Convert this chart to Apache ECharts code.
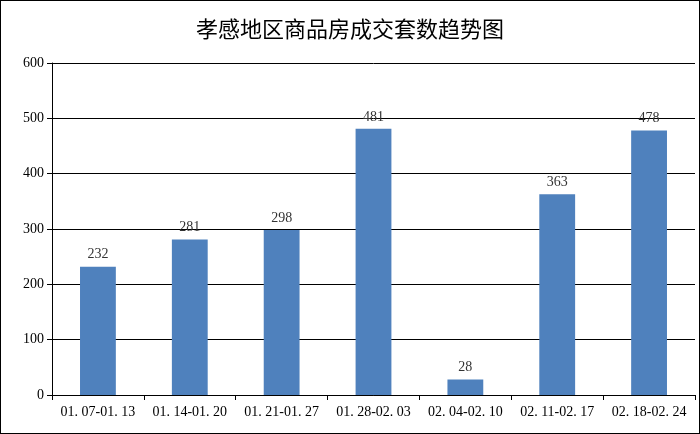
<!DOCTYPE html>
<html><head><meta charset="utf-8">
<script src="https://cdn.jsdelivr.net/npm/echarts@6/dist/echarts.min.js"></script>
<style>html,body{margin:0;padding:0;background:#fff}#mainChart{width:698px;height:432px;border:1px solid #000}</style>
</head><body>
<div id="mainChart"></div>
<script>
// 孝感地区商品房成交套数
var categories = ['01. 07-01. 13', '01. 14-01. 20', '01. 21-01. 27', '01. 28-02. 03', '02. 04-02. 10', '02. 11-02. 17', '02. 18-02. 24'];
var dealCounts = [232, 281, 298, 481, 28, 363, 478];

var myChart = echarts.init(document.getElementById('mainChart'));
myChart.setOption({
    animation: false,
    title: {
        text: '孝感地区商品房成交套数趋势图',
        left: 'center',
        top: 12,
        textStyle: { fontFamily: 'Noto Sans CJK SC', fontSize: 22, fontWeight: 'normal', color: '#000' }
    },
    grid: { left: 51, right: 4, top: 62, bottom: 38 },
    xAxis: {
        type: 'category',
        data: categories,
        axisLine: { lineStyle: { color: '#000' } },
        axisTick: { show: true, lineStyle: { color: '#000' } },
        axisLabel: { color: '#000', fontFamily: 'Liberation Serif', fontSize: 14, margin: 10, interval: 0 }
    },
    yAxis: {
        type: 'value',
        min: 0, max: 600, interval: 100,
        axisLine: { show: true, lineStyle: { color: '#000' } },
        axisTick: { show: true, lineStyle: { color: '#000' } },
        axisLabel: { color: '#000', fontFamily: 'Liberation Serif', fontSize: 14 },
        splitLine: { lineStyle: { color: '#000' } }
    },
    series: [{
        type: 'bar',
        data: dealCounts,
        barWidth: '39%',
        itemStyle: { color: '#4f81bd' },
        label: { show: true, position: 'top', color: '#333', fontFamily: 'Liberation Serif', fontSize: 14 }
    }]
});
</script>
</body></html>
